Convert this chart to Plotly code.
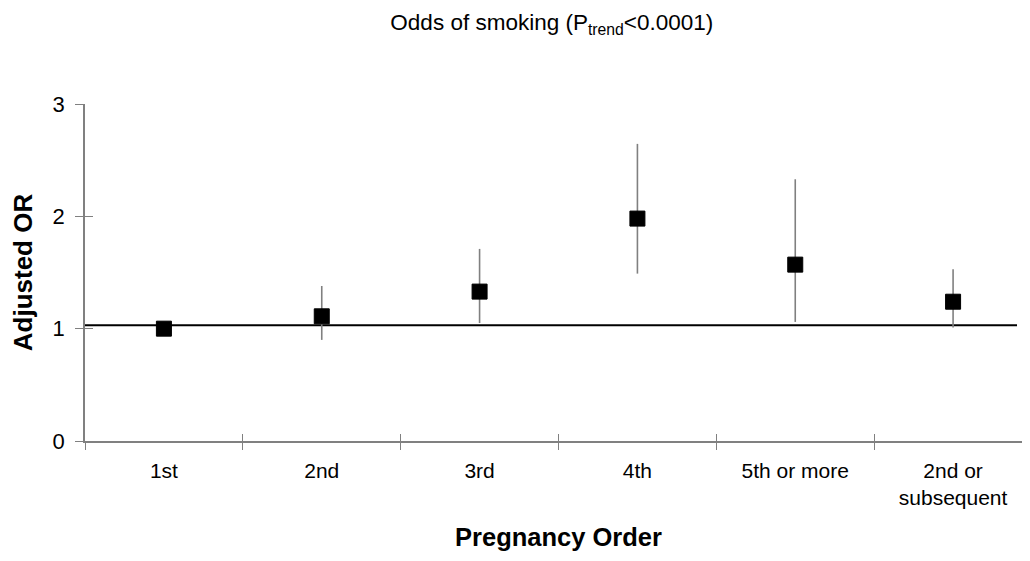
import plotly.graph_objects as go

categories = ["1st", "2nd", "3rd", "4th", "5th or more", "2nd or<br>subsequent"]
odds_ratio = [1.00, 1.11, 1.33, 1.98, 1.57, 1.24]
ci_upper = [1.00, 1.38, 1.71, 2.645, 2.33, 1.53]
ci_lower = [1.00, 0.90, 1.05, 1.49, 1.06, 1.01]
y_ticks = [0, 1, 2, 3]
ref_value = 1.03
ref_x_span = [-0.5, 5.405]

err_plus = [u - v for u, v in zip(ci_upper, odds_ratio)]
err_minus = [v - l for v, l in zip(odds_ratio, ci_lower)]

FONT = "Arial, Liberation Sans, sans-serif"
GRAY = "#808080"

fig = go.Figure()

fig.add_trace(go.Scatter(
    x=categories, y=odds_ratio, mode="markers",
    marker=dict(symbol="square", size=15, color="black", line=dict(color="black", width=1)),
    error_y=dict(type="data", symmetric=False, array=err_plus, arrayminus=err_minus,
                 color=GRAY, thickness=1.6, width=0),
    showlegend=False, hoverinfo="skip",
))

# invisible trace on overlay axes (for cross-style tick marks)
fig.add_trace(go.Scatter(
    x=categories, y=[None] * len(categories), xaxis="x2", yaxis="y2",
    mode="markers", showlegend=False, hoverinfo="skip",
))

fig.add_shape(type="line", xref="x", yref="y",
              x0=ref_x_span[0], x1=ref_x_span[1], y0=ref_value, y1=ref_value,
              line=dict(color="black", width=2), layer="below")

common_x = dict(type="category", categoryorder="array", categoryarray=categories,
                range=[-0.5, len(categories) - 0.5], tickson="boundaries",
                showgrid=False, zeroline=False)

fig.update_layout(
    width=1030, height=561,
    margin=dict(l=77, r=6, t=96, b=128, autoexpand=False),
    paper_bgcolor="white", plot_bgcolor="white",
    font=dict(family=FONT, color="black"),
    title=dict(text="Odds of smoking (P<sub>trend</sub><0.0001)",
               x=0.528, xanchor="center", y=0.975, yanchor="middle",
               font=dict(size=22.5, family=FONT, color="black")),
    xaxis=dict(**common_x, ticks="outside", ticklen=7, tickcolor=GRAY, tickwidth=1,
               showline=True, linecolor=GRAY, linewidth=1.5,
               tickfont=dict(size=21, family=FONT, color="black"),
               ticklabelstandoff=10,
               title=dict(text="<b>Pregnancy Order</b>", standoff=20,
                          font=dict(size=25.5, family=FONT, color="black"))),
    xaxis2=dict(**common_x, overlaying="x", anchor="y2", side="bottom",
                ticks="inside", ticklen=7, tickcolor=GRAY, tickwidth=1,
                showticklabels=False, showline=False),
    yaxis=dict(range=[0, 3], tickvals=y_ticks, ticks="outside", ticklen=8,
               tickcolor=GRAY, tickwidth=1, showline=True, linecolor=GRAY, linewidth=1.5,
               showgrid=False, zeroline=False,
               tickfont=dict(size=22, family=FONT, color="black"),
               ticklabelstandoff=6,
               title=dict(text="<b>Adjusted OR</b>", standoff=14,
                          font=dict(size=26, family=FONT, color="black"))),
    yaxis2=dict(range=[0, 3], tickvals=y_ticks, overlaying="y", anchor="x2", side="left",
                ticks="inside", ticklen=8, tickcolor=GRAY, tickwidth=1,
                showticklabels=False, showline=False, showgrid=False, zeroline=False),
)

fig.write_html("out.html")
